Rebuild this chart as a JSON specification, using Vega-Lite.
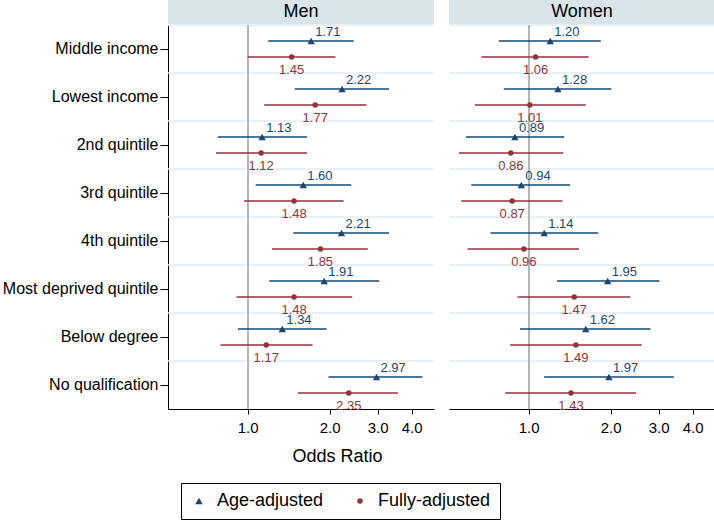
{
  "$schema": "https://vega.github.io/schema/vega-lite/v6.json",
  "padding": {"left": 2, "top": 0, "right": 0, "bottom": 0},
  "background": "white",
  "config": {
    "font": "Liberation Sans",
    "view": {"stroke": null},
    "axis": {"domainColor": "#000000", "tickColor": "#000000", "labelColor": "#000000", "titleColor": "#000000", "labelFont": "Liberation Sans", "titleFont": "Liberation Sans", "titleFontWeight": "normal", "grid": false}
  },
  "datasets": {
    "panels": [{"panel": "Men"}, {"panel": "Women"}],
    "rows": [
      {"sex": "Men", "category": "Middle income", "model": "Age-adjusted", "or": 1.71, "lo": 1.19, "hi": 2.45},
      {"sex": "Men", "category": "Middle income", "model": "Fully-adjusted", "or": 1.45, "lo": 1.0, "hi": 2.1},
      {"sex": "Men", "category": "Lowest income", "model": "Age-adjusted", "or": 2.22, "lo": 1.49, "hi": 3.3},
      {"sex": "Men", "category": "Lowest income", "model": "Fully-adjusted", "or": 1.77, "lo": 1.15, "hi": 2.73},
      {"sex": "Men", "category": "2nd quintile", "model": "Age-adjusted", "or": 1.13, "lo": 0.776, "hi": 1.65},
      {"sex": "Men", "category": "2nd quintile", "model": "Fully-adjusted", "or": 1.12, "lo": 0.765, "hi": 1.65},
      {"sex": "Men", "category": "3rd quintile", "model": "Age-adjusted", "or": 1.6, "lo": 1.07, "hi": 2.4},
      {"sex": "Men", "category": "3rd quintile", "model": "Fully-adjusted", "or": 1.48, "lo": 0.97, "hi": 2.25},
      {"sex": "Men", "category": "4th quintile", "model": "Age-adjusted", "or": 2.21, "lo": 1.47, "hi": 3.3},
      {"sex": "Men", "category": "4th quintile", "model": "Fully-adjusted", "or": 1.85, "lo": 1.23, "hi": 2.76},
      {"sex": "Men", "category": "Most deprived quintile", "model": "Age-adjusted", "or": 1.91, "lo": 1.2, "hi": 3.04},
      {"sex": "Men", "category": "Most deprived quintile", "model": "Fully-adjusted", "or": 1.48, "lo": 0.91, "hi": 2.42},
      {"sex": "Men", "category": "Below degree", "model": "Age-adjusted", "or": 1.34, "lo": 0.92, "hi": 1.95},
      {"sex": "Men", "category": "Below degree", "model": "Fully-adjusted", "or": 1.17, "lo": 0.795, "hi": 1.73},
      {"sex": "Men", "category": "No qualification", "model": "Age-adjusted", "or": 2.97, "lo": 1.98, "hi": 4.38},
      {"sex": "Men", "category": "No qualification", "model": "Fully-adjusted", "or": 2.35, "lo": 1.53, "hi": 3.56},
      {"sex": "Women", "category": "Middle income", "model": "Age-adjusted", "or": 1.2, "lo": 0.777, "hi": 1.84},
      {"sex": "Women", "category": "Middle income", "model": "Fully-adjusted", "or": 1.06, "lo": 0.671, "hi": 1.66},
      {"sex": "Women", "category": "Lowest income", "model": "Age-adjusted", "or": 1.28, "lo": 0.81, "hi": 2.01},
      {"sex": "Women", "category": "Lowest income", "model": "Fully-adjusted", "or": 1.01, "lo": 0.634, "hi": 1.62},
      {"sex": "Women", "category": "2nd quintile", "model": "Age-adjusted", "or": 0.89, "lo": 0.589, "hi": 1.35},
      {"sex": "Women", "category": "2nd quintile", "model": "Fully-adjusted", "or": 0.86, "lo": 0.555, "hi": 1.34},
      {"sex": "Women", "category": "3rd quintile", "model": "Age-adjusted", "or": 0.94, "lo": 0.616, "hi": 1.42},
      {"sex": "Women", "category": "3rd quintile", "model": "Fully-adjusted", "or": 0.87, "lo": 0.566, "hi": 1.33},
      {"sex": "Women", "category": "4th quintile", "model": "Age-adjusted", "or": 1.14, "lo": 0.724, "hi": 1.8},
      {"sex": "Women", "category": "4th quintile", "model": "Fully-adjusted", "or": 0.96, "lo": 0.597, "hi": 1.53},
      {"sex": "Women", "category": "Most deprived quintile", "model": "Age-adjusted", "or": 1.95, "lo": 1.27, "hi": 3.02},
      {"sex": "Women", "category": "Most deprived quintile", "model": "Fully-adjusted", "or": 1.47, "lo": 0.91, "hi": 2.36},
      {"sex": "Women", "category": "Below degree", "model": "Age-adjusted", "or": 1.62, "lo": 0.93, "hi": 2.8},
      {"sex": "Women", "category": "Below degree", "model": "Fully-adjusted", "or": 1.49, "lo": 0.856, "hi": 2.6},
      {"sex": "Women", "category": "No qualification", "model": "Age-adjusted", "or": 1.97, "lo": 1.14, "hi": 3.41},
      {"sex": "Women", "category": "No qualification", "model": "Fully-adjusted", "or": 1.43, "lo": 0.82, "hi": 2.48}
    ]
  },
  "spacing": 13,
  "hconcat": [
    {
      "spacing": 0,
      "vconcat": [
        {
          "width": 266, "height": 24,
          "data": {"name": "panels"},
          "transform": [{"filter": "datum.panel === 'Men'"}],
          "view": {"fill": "#d9e5eb", "stroke": null},
          "mark": {"type": "text", "fontSize": 18, "color": "#000000", "baseline": "middle"},
          "encoding": {"text": {"field": "panel"}}
        },
        {
          "width": 266, "height": 384,
          "data": {"name": "rows"},
          "transform": [{"filter": "datum.sex === 'Men'"}],
          "layer": [
            {
              "mark": {"type": "rule", "color": "#e3ecf0", "strokeWidth": 1},
              "encoding": {
                "y": {"field": "category", "type": "nominal", "bandPosition": 0,
                  "sort": ["Middle income", "Lowest income", "2nd quintile", "3rd quintile", "4th quintile", "Most deprived quintile", "Below degree", "No qualification"],
                  "scale": {"type": "band", "paddingInner": 0, "paddingOuter": 0},
                  "axis": {"title": null, "labelFontSize": 16, "tickSize": 8, "labelPadding": 2, "domainWidth": 1, "tickWidth": 1}}
              }
            },
            {
              "mark": {"type": "rule", "color": "#b5b5b5", "strokeWidth": 1.3},
              "encoding": {"x": {"datum": 1, "type": "quantitative"}}
            },
            {
              "transform": [{"filter": "datum.model === 'Age-adjusted'"}],
              "mark": {"type": "rule", "strokeWidth": 1.6, "color": "#1a476f"},
              "encoding": {
                "x": {"field": "lo", "type": "quantitative",
                  "scale": {"type": "log", "domain": [0.51, 4.83], "nice": false, "zero": false},
                  "axis": {"values": [1, 2, 3, 4], "format": ".1f", "labelFontSize": 15, "tickSize": 5, "labelPadding": 6, "title": "Odds Ratio", "titleFontSize": 18, "titleX": 169, "titlePadding": 12, "labelFlush": false}},
                "x2": {"field": "hi"},
                "y": {"field": "category", "type": "nominal", "sort": ["Middle income", "Lowest income", "2nd quintile", "3rd quintile", "4th quintile", "Most deprived quintile", "Below degree", "No qualification"]},
                "yOffset": {"field": "model", "type": "nominal", "scale": {"type": "point", "padding": 2, "domain": ["Age-adjusted", "Fully-adjusted"]}}
              }
            },
            {
              "transform": [{"filter": "datum.model === 'Fully-adjusted'"}],
              "mark": {"type": "rule", "strokeWidth": 1.6, "color": "#90353b"},
              "encoding": {
                "x": {"field": "lo", "type": "quantitative"},
                "x2": {"field": "hi"},
                "y": {"field": "category", "type": "nominal", "sort": ["Middle income", "Lowest income", "2nd quintile", "3rd quintile", "4th quintile", "Most deprived quintile", "Below degree", "No qualification"]},
                "yOffset": {"field": "model", "type": "nominal"}
              }
            },
            {
              "mark": {"type": "point", "filled": true, "opacity": 1},
              "encoding": {
                "x": {"field": "or", "type": "quantitative"},
                "y": {"field": "category", "type": "nominal", "sort": ["Middle income", "Lowest income", "2nd quintile", "3rd quintile", "4th quintile", "Most deprived quintile", "Below degree", "No qualification"]},
                "yOffset": {"field": "model", "type": "nominal"},
                "color": {"field": "model", "type": "nominal", "scale": {"domain": ["Age-adjusted", "Fully-adjusted"], "range": ["#1a476f", "#90353b"]},
                  "legend": {"title": null, "orient": "none", "legendX": 13, "legendY": 483, "direction": "horizontal", "strokeColor": "#000000", "padding": 9, "labelFontSize": 18, "labelColor": "#000000", "columnPadding": 27, "labelOffset": 9, "symbolStrokeWidth": 0}},
                "shape": {"field": "model", "type": "nominal", "scale": {"domain": ["Age-adjusted", "Fully-adjusted"], "range": ["triangle-up", "circle"]},
                  "legend": {"title": null, "orient": "none", "legendX": 13, "legendY": 483, "direction": "horizontal", "strokeColor": "#000000", "padding": 9, "labelFontSize": 18, "labelColor": "#000000", "columnPadding": 27, "labelOffset": 9, "symbolStrokeWidth": 0}},
                "size": {"field": "model", "type": "nominal", "scale": {"domain": ["Age-adjusted", "Fully-adjusted"], "range": [56, 30]},
                  "legend": {"title": null, "orient": "none", "legendX": 13, "legendY": 483, "direction": "horizontal", "strokeColor": "#000000", "padding": 9, "labelFontSize": 18, "labelColor": "#000000", "columnPadding": 27, "labelOffset": 9, "symbolStrokeWidth": 0}}
              }
            },
            {
              "transform": [{"filter": "datum.model === 'Age-adjusted'"}],
              "mark": {"type": "text", "fontSize": 13, "color": "#1a476f", "align": "left", "baseline": "middle", "dx": 4, "dy": -9},
              "encoding": {
                "x": {"field": "or", "type": "quantitative"},
                "y": {"field": "category", "type": "nominal", "sort": ["Middle income", "Lowest income", "2nd quintile", "3rd quintile", "4th quintile", "Most deprived quintile", "Below degree", "No qualification"]},
                "yOffset": {"field": "model", "type": "nominal"},
                "text": {"field": "or", "type": "quantitative", "format": ".2f"}
              }
            },
            {
              "transform": [{"filter": "datum.model === 'Fully-adjusted'"}],
              "mark": {"type": "text", "fontSize": 13, "color": "#90353b", "align": "center", "baseline": "middle", "dy": 13},
              "encoding": {
                "x": {"field": "or", "type": "quantitative"},
                "y": {"field": "category", "type": "nominal", "sort": ["Middle income", "Lowest income", "2nd quintile", "3rd quintile", "4th quintile", "Most deprived quintile", "Below degree", "No qualification"]},
                "yOffset": {"field": "model", "type": "nominal"},
                "text": {"field": "or", "type": "quantitative", "format": ".2f"}
              }
            }
          ]
        }
      ]
    },
    {
      "spacing": 0,
      "vconcat": [
        {
          "width": 266, "height": 24,
          "data": {"name": "panels"},
          "transform": [{"filter": "datum.panel === 'Women'"}],
          "view": {"fill": "#d9e5eb", "stroke": null},
          "mark": {"type": "text", "fontSize": 18, "color": "#000000", "baseline": "middle"},
          "encoding": {"text": {"field": "panel"}}
        },
        {
          "width": 266, "height": 384,
          "data": {"name": "rows"},
          "transform": [{"filter": "datum.sex === 'Women'"}],
          "layer": [
            {
              "mark": {"type": "rule", "color": "#e3ecf0", "strokeWidth": 1},
              "encoding": {
                "y": {"field": "category", "type": "nominal", "bandPosition": 0,
                  "sort": ["Middle income", "Lowest income", "2nd quintile", "3rd quintile", "4th quintile", "Most deprived quintile", "Below degree", "No qualification"],
                  "scale": {"type": "band", "paddingInner": 0, "paddingOuter": 0},
                  "axis": null}
              }
            },
            {
              "mark": {"type": "rule", "color": "#b5b5b5", "strokeWidth": 1.3},
              "encoding": {"x": {"datum": 1, "type": "quantitative"}}
            },
            {
              "transform": [{"filter": "datum.model === 'Age-adjusted'"}],
              "mark": {"type": "rule", "strokeWidth": 1.6, "color": "#1a476f"},
              "encoding": {
                "x": {"field": "lo", "type": "quantitative",
                  "scale": {"type": "log", "domain": [0.51, 4.83], "nice": false, "zero": false},
                  "axis": {"values": [1, 2, 3, 4], "format": ".1f", "labelFontSize": 15, "tickSize": 5, "labelPadding": 6, "title": null, "labelFlush": false}},
                "x2": {"field": "hi"},
                "y": {"field": "category", "type": "nominal", "sort": ["Middle income", "Lowest income", "2nd quintile", "3rd quintile", "4th quintile", "Most deprived quintile", "Below degree", "No qualification"]},
                "yOffset": {"field": "model", "type": "nominal", "scale": {"type": "point", "padding": 2, "domain": ["Age-adjusted", "Fully-adjusted"]}}
              }
            },
            {
              "transform": [{"filter": "datum.model === 'Fully-adjusted'"}],
              "mark": {"type": "rule", "strokeWidth": 1.6, "color": "#90353b"},
              "encoding": {
                "x": {"field": "lo", "type": "quantitative"},
                "x2": {"field": "hi"},
                "y": {"field": "category", "type": "nominal", "sort": ["Middle income", "Lowest income", "2nd quintile", "3rd quintile", "4th quintile", "Most deprived quintile", "Below degree", "No qualification"]},
                "yOffset": {"field": "model", "type": "nominal"}
              }
            },
            {
              "mark": {"type": "point", "filled": true, "opacity": 1},
              "encoding": {
                "x": {"field": "or", "type": "quantitative"},
                "y": {"field": "category", "type": "nominal", "sort": ["Middle income", "Lowest income", "2nd quintile", "3rd quintile", "4th quintile", "Most deprived quintile", "Below degree", "No qualification"]},
                "yOffset": {"field": "model", "type": "nominal"},
                "color": {"field": "model", "type": "nominal"},
                "shape": {"field": "model", "type": "nominal"},
                "size": {"field": "model", "type": "nominal"}
              }
            },
            {
              "transform": [{"filter": "datum.model === 'Age-adjusted'"}],
              "mark": {"type": "text", "fontSize": 13, "color": "#1a476f", "align": "left", "baseline": "middle", "dx": 4, "dy": -9},
              "encoding": {
                "x": {"field": "or", "type": "quantitative"},
                "y": {"field": "category", "type": "nominal", "sort": ["Middle income", "Lowest income", "2nd quintile", "3rd quintile", "4th quintile", "Most deprived quintile", "Below degree", "No qualification"]},
                "yOffset": {"field": "model", "type": "nominal"},
                "text": {"field": "or", "type": "quantitative", "format": ".2f"}
              }
            },
            {
              "transform": [{"filter": "datum.model === 'Fully-adjusted'"}],
              "mark": {"type": "text", "fontSize": 13, "color": "#90353b", "align": "center", "baseline": "middle", "dy": 13},
              "encoding": {
                "x": {"field": "or", "type": "quantitative"},
                "y": {"field": "category", "type": "nominal", "sort": ["Middle income", "Lowest income", "2nd quintile", "3rd quintile", "4th quintile", "Most deprived quintile", "Below degree", "No qualification"]},
                "yOffset": {"field": "model", "type": "nominal"},
                "text": {"field": "or", "type": "quantitative", "format": ".2f"}
              }
            }
          ]
        }
      ]
    }
  ]
}
